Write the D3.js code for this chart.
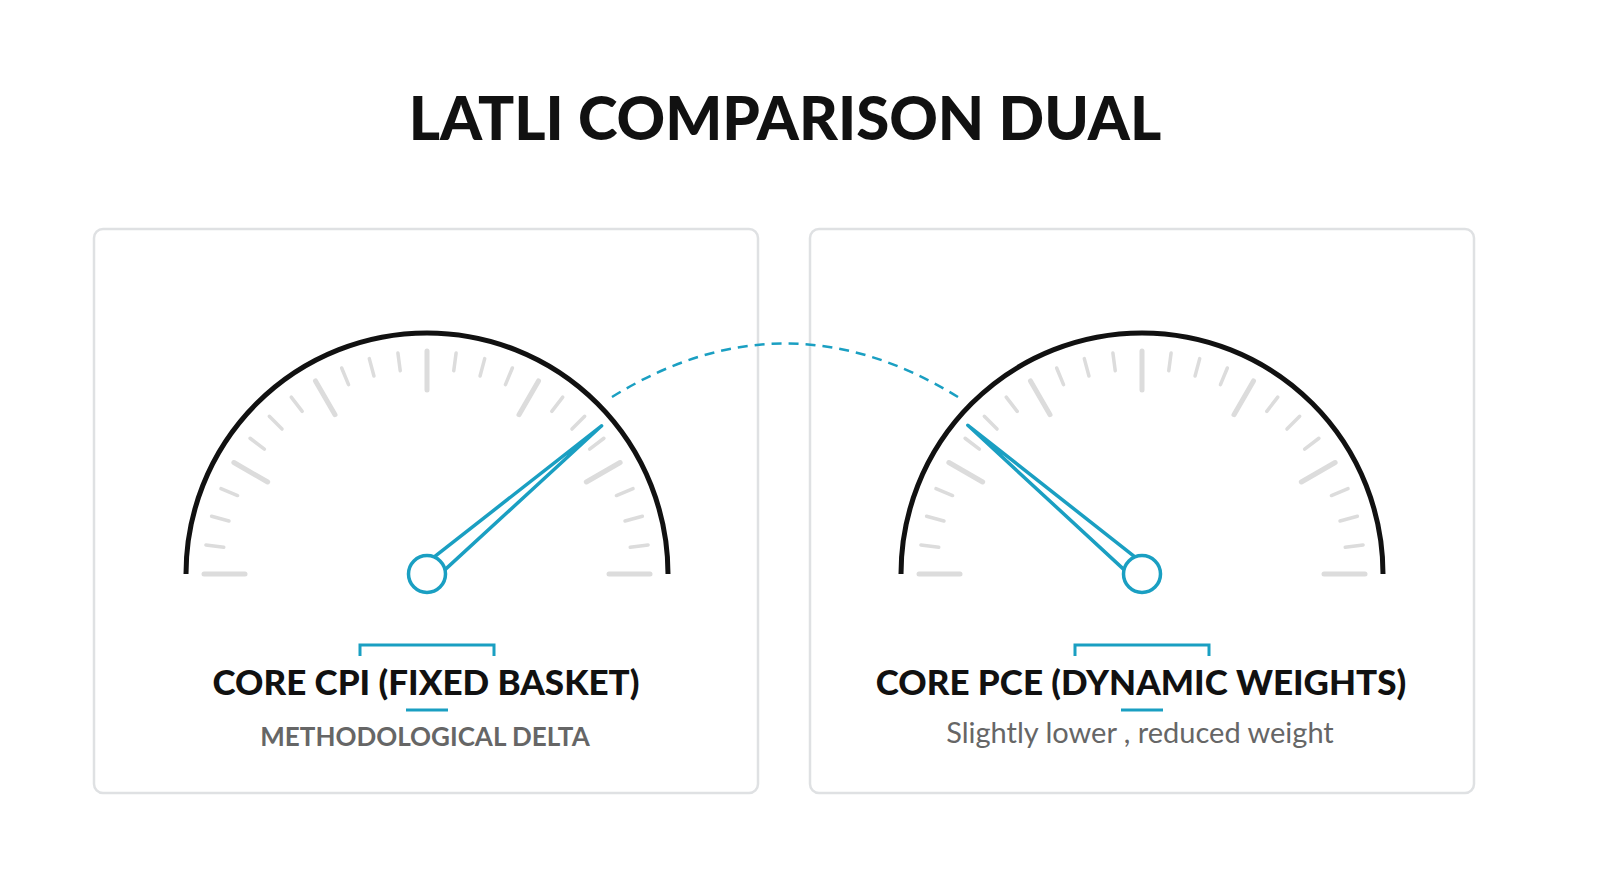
<!DOCTYPE html><html><head><meta charset="utf-8"><script src="https://cdn.jsdelivr.net/npm/d3@7"></script>
<style>body{margin:0;background:#fff}</style></head><body><svg id="c" width="1600" height="893"></svg>
<script>
const title = "LATLI COMPARISON DUAL";
const gaugeLabels = ["CORE CPI (FIXED BASKET)", "CORE PCE (DYNAMIC WEIGHTS)"];
const gaugeSubs = ["METHODOLOGICAL DELTA", "Slightly lower , reduced weight"];
const gaugeValues = [0.776, 0.225];
const tickSteps = d3.range(0, 25);
const teal = "#1a9fc2";
const svg = d3.select("#c");
svg.append("text").attr("x",785).attr("y",140).attr("text-anchor","middle")
  .attr("font-family","Lato").attr("font-weight",900).attr("font-size",60).attr("fill","#111").text(title);
const centers = [427, 1142], cy = 574, R = 241;
const ang = d3.scaleLinear().domain([0,1]).range([Math.PI, 0]);
const step = d3.scaleLinear().domain([0,24]).range([0,1]);
const pt = (cx, a, r) => [cx + r*Math.cos(a), cy - r*Math.sin(a)];
[0,1].forEach(i=>{
  const cx = centers[i], px = i===0?94:810;
  svg.append("rect").attr("x",px).attr("y",229).attr("width",664).attr("height",564).attr("rx",9)
    .attr("fill","#fff").attr("stroke","#dfe1e3").attr("stroke-width",2.5);
  const g = svg.append("g");
  g.append("path").attr("d", d3.arc()({innerRadius:R,outerRadius:R,startAngle:-Math.PI/2,endAngle:Math.PI/2}))
    .attr("transform",`translate(${cx},${cy})`).attr("fill","none").attr("stroke","#111").attr("stroke-width",5).attr("stroke-linecap","round");
  tickSteps.forEach(k=>{
    const a = ang(step(k)), major = k%4===0;
    const r0 = major? (k===0||k===24? 182:184) : 205, r1 = 223;
    const p0 = pt(cx,a,r0), p1 = pt(cx,a,r1);
    g.append("line").attr("x1",p0[0]).attr("y1",p0[1]).attr("x2",p1[0]).attr("y2",p1[1])
      .attr("stroke","#dcdcdc").attr("stroke-width",major?5:3.5).attr("stroke-linecap","round");
  });
  const a = ang(gaugeValues[i]);
  const tip = pt(cx,a,229), b1 = pt(cx,a+Math.PI/2,9), b2 = pt(cx,a-Math.PI/2,9);
  g.append("path").attr("d",`M${b1}L${tip}L${b2}Z`).attr("fill","#fff").attr("stroke",teal).attr("stroke-width",3.5).attr("stroke-linejoin","round");
  g.append("circle").attr("cx",cx).attr("cy",cy).attr("r",18.5).attr("fill","#fff").attr("stroke",teal).attr("stroke-width",3.5);
  g.append("path").attr("d",`M${cx-67},656V645H${cx+67}V656`).attr("fill","none").attr("stroke",teal).attr("stroke-width",3);
  g.append("text").attr("x",cx-1).attr("y",695).attr("text-anchor","middle").attr("font-family","Lato")
    .attr("font-weight",900).attr("font-size",35).attr("fill","#111").text(gaugeLabels[i]);
  g.append("line").attr("x1",cx-21).attr("x2",cx+21).attr("y1",710).attr("y2",710).attr("stroke",teal).attr("stroke-width",3);
  g.append("text").attr("x",cx-2).attr("y",i===0?746:743).attr("text-anchor","middle").attr("font-family","Lato")
    .attr("font-weight",i===0?700:400).attr("font-size",i===0?26:29).attr("fill","#666").text(gaugeSubs[i]);
});
svg.append("path").attr("d","M612,397 Q785,290 958,397").attr("fill","none").attr("stroke",teal)
  .attr("stroke-width",2.5).attr("stroke-dasharray","10,7");
</script></body></html>
